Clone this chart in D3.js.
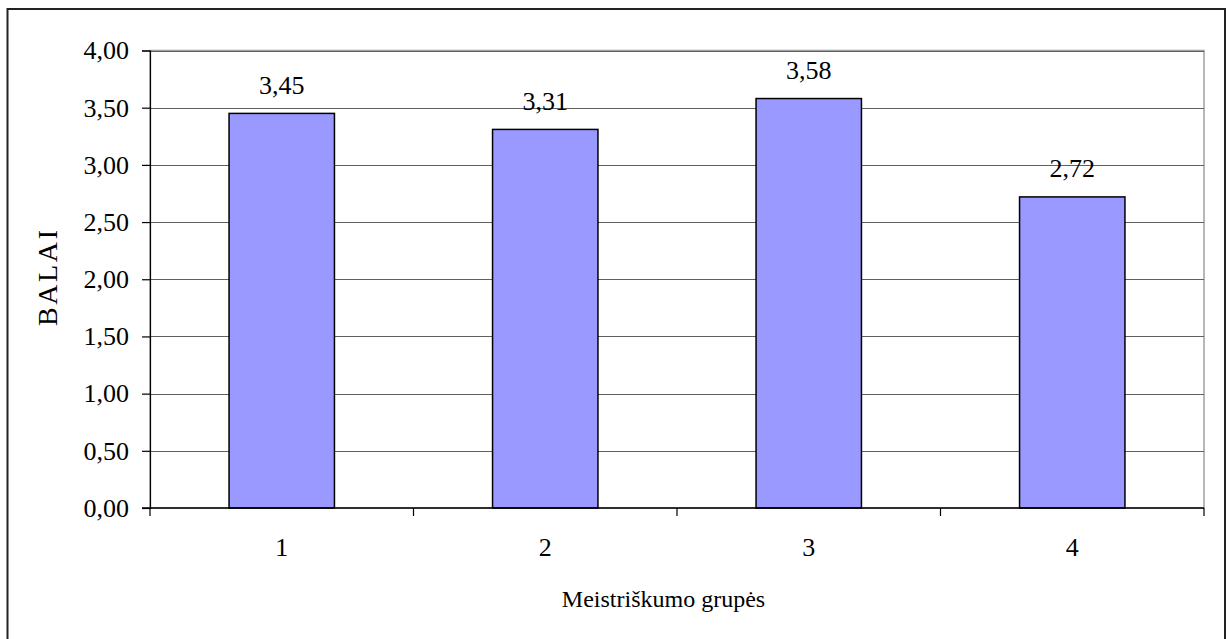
<!DOCTYPE html>
<html>
<head>
<meta charset="utf-8">
<script src="https://cdn.jsdelivr.net/npm/d3@7/dist/d3.min.js"></script>
<style>
  html, body { margin: 0; padding: 0; background: #fff; }
  svg { display: block; }
  text { font-family: "Liberation Serif", "Times New Roman", serif; fill: #000; }
</style>
</head>
<body>
<svg id="chart" width="1226" height="639"></svg>
<script>
// Score per mastery group
const categories = ["1", "2", "3", "4"];
const values = [3.45, 3.31, 3.58, 2.72];
const yTicks = [0, 0.5, 1, 1.5, 2, 2.5, 3, 3.5, 4];
const yTitle = "BALAI";
const xTitle = "Meistriškumo grupės";

const plot = { left: 150, top: 50.5, right: 1204, bottom: 508 };

const svg = d3.select("#chart");
const fmt = v => d3.format(".2f")(v).replace(".", ",");

// outer frame (runs past the bottom edge)
svg.append("rect")
  .attr("x", 7.5).attr("y", 9)
  .attr("width", 1225 - 7.5).attr("height", 700)
  .attr("fill", "none").attr("stroke", "#222").attr("stroke-width", 2);

const x = d3.scaleBand().domain(categories).range([plot.left, plot.right]).paddingInner(0).paddingOuter(0);
const y = d3.scaleLinear().domain([0, 4]).range([plot.bottom, plot.top]);

// plot area border (grey)
svg.append("rect")
  .attr("x", plot.left).attr("y", plot.top)
  .attr("width", plot.right - plot.left).attr("height", plot.bottom - plot.top)
  .attr("fill", "none").attr("stroke", "#a0a0a0").attr("stroke-width", 1.5);

// horizontal gridlines
svg.append("g").selectAll("line")
  .data(yTicks.filter(t => t > 0))
  .join("line")
  .attr("x1", plot.left).attr("x2", plot.right)
  .attr("y1", d => Math.round(y(d)) + 0.5).attr("y2", d => Math.round(y(d)) + 0.5)
  .attr("stroke", "#606060").attr("stroke-width", 1.2);

// y axis
const yAxis = d3.axisLeft(y).tickValues(yTicks).tickFormat(fmt).tickSize(8).tickPadding(13);
const gy = svg.append("g").attr("transform", `translate(${plot.left},0)`).call(yAxis);
gy.attr("font-size", null).attr("font-family", null);
gy.select(".domain").attr("stroke", "#000").attr("stroke-width", 1.2);
gy.selectAll(".tick line").attr("stroke", "#000").attr("stroke-width", 1.2);
gy.selectAll(".tick text")
  .style("font-size", "26px")
  .style("font-family", "'Liberation Serif', serif")
  .attr("fill", "#000");

// bars
const barW = x.bandwidth() * 0.4;
svg.append("g").selectAll("rect")
  .data(values)
  .join("rect")
  .attr("x", (d, i) => x(categories[i]) + (x.bandwidth() - barW) / 2)
  .attr("y", d => y(d))
  .attr("width", barW)
  .attr("height", d => y(0) - y(d))
  .attr("fill", "#9999ff").attr("stroke", "#000").attr("stroke-width", 1.5);

// value labels
svg.append("g").selectAll("text")
  .data(values)
  .join("text")
  .attr("x", (d, i) => x(categories[i]) + x.bandwidth() / 2)
  .attr("y", d => y(d) - 19.5)
  .attr("text-anchor", "middle")
  .style("font-size", "26px")
  .text(d => fmt(d));

// x axis with ticks at category boundaries
const gx = svg.append("g").attr("transform", `translate(0,${plot.bottom})`);
gx.append("line")
  .attr("x1", plot.left - 8).attr("x2", plot.right)
  .attr("y1", 0).attr("y2", 0)
  .attr("stroke", "#000").attr("stroke-width", 1.5);
const bounds = categories.map(c => x(c)).concat([plot.right]);
gx.selectAll("line.tk")
  .data(bounds)
  .join("line").attr("class", "tk")
  .attr("x1", d => d).attr("x2", d => d)
  .attr("y1", 0).attr("y2", 8)
  .attr("stroke", "#000").attr("stroke-width", 1.2);
gx.selectAll("text")
  .data(categories)
  .join("text")
  .attr("x", d => x(d) + x.bandwidth() / 2)
  .attr("y", 48)
  .attr("text-anchor", "middle")
  .style("font-size", "26px")
  .text(d => d);

// axis titles
svg.append("text")
  .attr("x", 663.5)
  .attr("y", 607)
  .attr("text-anchor", "middle")
  .style("font-size", "24px")
  .text(xTitle);

svg.append("text")
  .attr("transform", `translate(57,278) rotate(-90)`)
  .attr("text-anchor", "middle")
  .attr("textLength", 96)
  .attr("lengthAdjust", "spacing")
  .style("font-size", "28px")
  .text(yTitle);
</script>
</body>
</html>
